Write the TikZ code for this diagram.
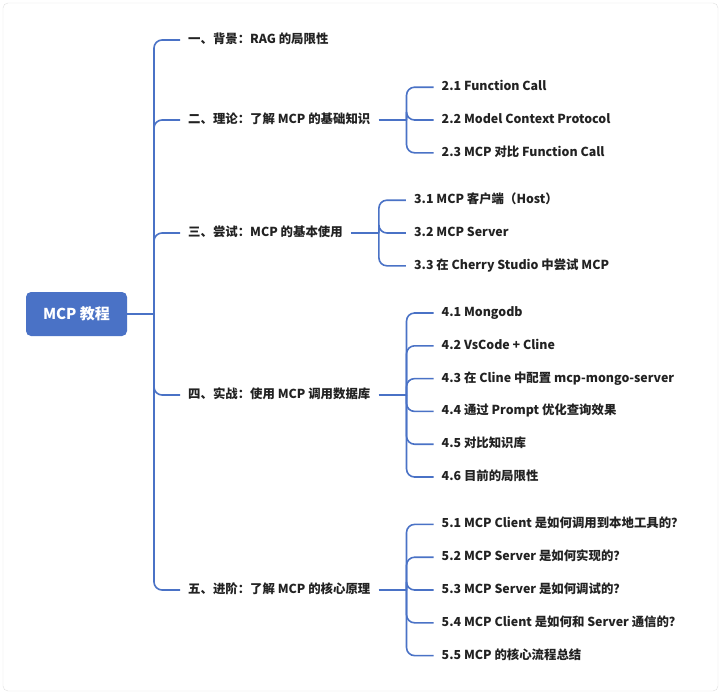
\documentclass[tikz,border=0pt]{standalone}
\usepackage{fontspec}
\setmainfont{Noto Sans CJK SC}
\usetikzlibrary{positioning}
\definecolor{mapblue}{HTML}{4A72C6}
\definecolor{mapframe}{HTML}{E0E0E0}
\definecolor{maptext}{HTML}{222222}
\tikzset{
  link/.style={draw=mapblue, line width=1.6pt, rounded corners=8pt},
  topic/.style={anchor=west, inner sep=0pt, text=maptext,
    font=\bfseries\fontsize{12.4}{15}\selectfont, text height=10pt, text depth=3pt},
  rootbox/.style={fill=mapblue, rounded corners=5pt, text=white,
    font=\bfseries\fontsize{15}{18}\selectfont, minimum width=101pt, minimum height=44pt}
}
\begin{document}
\begin{tikzpicture}[x=1pt,y=-1pt]
  \useasboundingbox (0,0) rectangle (721,694);
  \draw[mapframe, fill=white, rounded corners=5pt] (3,3) rectangle (718,691);
  \pgfmathsetmacro{\dy}{32.8}
  % root and main trunk
  \node[rootbox] (root) at (76.5,314) {MCP 教程};
  \coordinate (t) at (154,314);
  \node[topic] (b1) at (188,40) {一、背景：RAG 的局限性};
  \node[topic] (b2) at (188,120) {二、理论：了解 MCP 的基础知识};
  \node[topic] (b3) at (188,233) {三、尝试：MCP 的基本使用};
  \node[topic] (b4) at (188,395) {四、实战：使用 MCP 调用数据库};
  \node[topic] (b5) at (188,590) {五、进阶：了解 MCP 的核心原理};
  \draw[link] (root.east) -- (t);
  \foreach \i in {1,...,5}
    \draw[link] (t) |- ([xshift=-8pt]b\i.west);
  % sub trunks
  \coordinate (j2) at ([xshift=36pt]b2.east);
  \coordinate (j3) at ([xshift=36pt]b3.east);
  \coordinate (j4) at ([xshift=36pt]b4.east);
  \coordinate (j5) at ([xshift=36pt]b5.east);
  \foreach \i in {2,...,5}
    \draw[link] ([xshift=8pt]b\i.east) -- (j\i);
  \foreach \txt [count=\k] in {2.1 Function Call, 2.2 Model Context Protocol,
      2.3 MCP 对比 Function Call}
    \path (j2) ++(35,{\dy*(\k-2)}) node[topic] (s2\k) {\txt};
  \foreach \txt [count=\k] in {3.1 MCP 客户端（Host）, 3.2 MCP Server,
      3.3 在 Cherry Studio 中尝试 MCP}
    \path (j3) ++(35,{\dy*(\k-2)}) node[topic] (s3\k) {\txt};
  \foreach \txt [count=\k] in {4.1 Mongodb, 4.2 VsCode + Cline,
      4.3 在 Cline 中配置 mcp-mongo-server, 4.4 通过 Prompt 优化查询效果,
      4.5 对比知识库, 4.6 目前的局限性}
    \path (j4) ++(35,{\dy*(\k-3.5)}) node[topic] (s4\k) {\txt};
  \foreach \txt [count=\k] in {5.1 MCP Client 是如何调用到本地工具的？,
      5.2 MCP Server 是如何实现的？, 5.3 MCP Server 是如何调试的？,
      5.4 MCP Client 是如何和 Server 通信的？, 5.5 MCP 的核心流程总结}
    \path (j5) ++(35,{\dy*(\k-3)}) node[topic] (s5\k) {\txt};
  \foreach \k in {1,2,3} {
    \draw[link] (j2) |- ([xshift=-8pt]s2\k.west);
    \draw[link] (j3) |- ([xshift=-8pt]s3\k.west);
  }
  \foreach \k in {1,...,6}
    \draw[link] (j4) |- ([xshift=-8pt]s4\k.west);
  \foreach \k in {1,...,5}
    \draw[link] (j5) |- ([xshift=-8pt]s5\k.west);
\end{tikzpicture}
\end{document}
